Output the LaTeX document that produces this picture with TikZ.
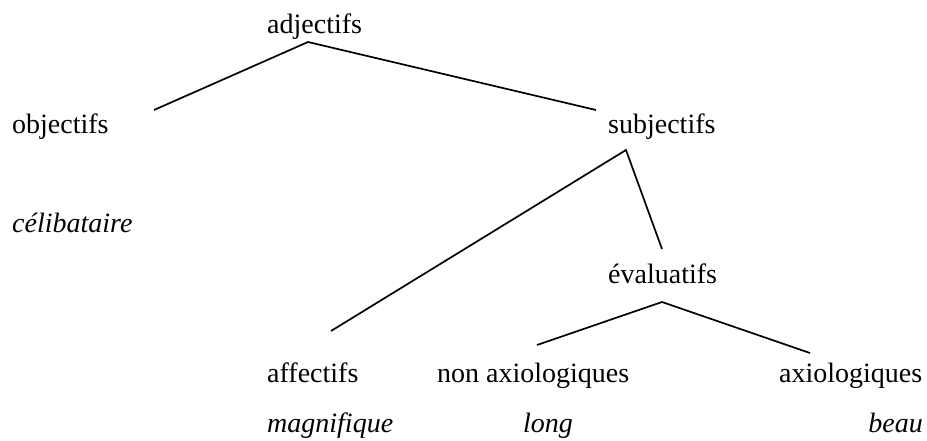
\documentclass[tikz,border=0pt]{standalone}
\usepackage{fontspec}
\setmainfont{Liberation Serif}
\begin{document}
\begin{tikzpicture}[x=1pt,y=-1pt,
  lbl/.style={anchor=base west,inner sep=0pt,font=\fontsize{28}{32}\selectfont},
  ex/.style={lbl,font=\fontsize{28}{32}\selectfont\itshape},
  branch/.style={line width=1.7pt}]
\useasboundingbox (0,0) rectangle (927,440);
% category labels
\node[lbl] (adj) at (267,33) {adjectifs};
\node[lbl] (obj) at (12,133) {objectifs};
\node[lbl] (subj) at (608,133) {subjectifs};
\node[lbl] (eval) at (608,283) {évaluatifs};
\node[lbl] (aff) at (267,382) {affectifs};
\node[lbl] (nonax) at (437,382) {non axiologiques};
\node[lbl] (ax) at (779,382) {axiologiques};
% examples
\node[ex] (celib) at (12,232) {célibataire};
\node[ex] (magn) at (267,432) {magnifique};
\node[ex] (long) at (523,432) {long};
\node[ex,anchor=base east] (beau) at (923,432) {beau};
% branch points
\coordinate (adjTop) at (308,42);
\coordinate (objEnd) at (154,110);
\coordinate (subjEnd) at (596,110);
\coordinate (subjTop) at (626,150);
\coordinate (affEnd) at (331,331);
\coordinate (evalEnd) at (662,249);
\coordinate (evalTop) at (662,302);
\coordinate (nonaxEnd) at (537,345);
\coordinate (axEnd) at (810,353);
% branches
\draw[branch] (objEnd) -- (adjTop) -- (subjEnd);
\draw[branch] (affEnd) -- (subjTop) -- (evalEnd);
\draw[branch] (nonaxEnd) -- (evalTop) -- (axEnd);
\end{tikzpicture}
\end{document}
